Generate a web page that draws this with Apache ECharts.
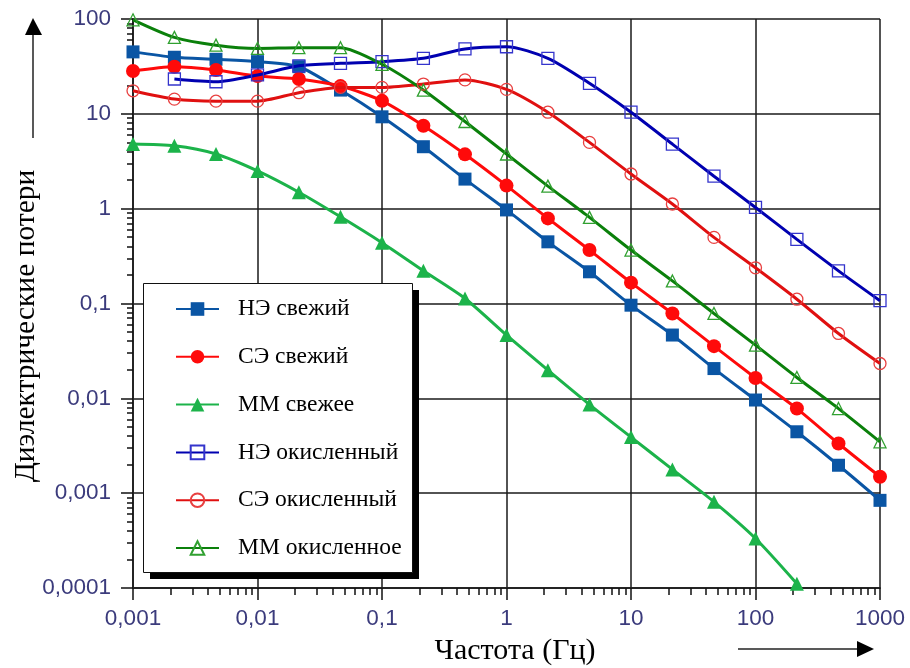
<!DOCTYPE html>
<html>
<head>
<meta charset="utf-8">
<script src="https://cdn.jsdelivr.net/npm/echarts@6/dist/echarts.min.js"></script>
<style>
  html, body { margin: 0; padding: 0; background: #fff; }
  #chart { width: 910px; height: 668px; }
</style>
</head>
<body>
<div id="chart"></div>
<script>
// Frequencies, Hz (three points per decade)
const freq = [0.001, 0.00215, 0.00464, 0.01, 0.0215, 0.0464, 0.1, 0.215, 0.464,
              1, 2.15, 4.64, 10, 21.5, 46.4, 100, 215, 464, 1000];

// Dielectric loss for each sample
const neFresh = [45, 39.5, 37.6, 35.5, 31.4, 17.8, 9.3, 4.5, 2.05, 0.97, 0.447, 0.216,
                 0.096, 0.0465, 0.0206, 0.0096, 0.00444, 0.00197, 0.00084];
const seFresh = [28.3, 31.4, 29, 25, 23.3, 19.6, 13.7, 7.5, 3.74, 1.75, 0.79, 0.366,
                 0.166, 0.0785, 0.0355, 0.0164, 0.0078, 0.00334, 0.00149];
const mmFresh = [4.8, 4.6, 3.77, 2.5, 1.49, 0.82, 0.437, 0.221, 0.113, 0.0465, 0.0198,
                 0.0086, 0.0039, 0.00178, 0.00081, 0.000333, 0.000111, null, null];
const neOx    = [null, 23.3, 21.8, 25.7, 32.1, 34.1, 35.5, 38.5, 48.3, 51, 38.5, 21,
                 10.4, 4.8, 2.2, 1.03, 0.474, 0.221, 0.107];
const seOx    = [17.5, 14.3, 13.6, 13.6, 16.7, 19, 19, 20.6, 22.8, 18.1, 10.4, 5,
                 2.32, 1.12, 0.498, 0.238, 0.111, 0.0483, 0.0233];
const mmOx    = [98, 64, 53, 49, 49.8, 49.8, 33.3, 17.8, 8.3, 3.77, 1.73, 0.81,
                 0.366, 0.173, 0.0785, 0.0364, 0.0166, 0.0078, 0.00348];

const seriesNames = ['НЭ свежий', 'СЭ свежий', 'ММ свежее',
                     'НЭ окисленный', 'СЭ окисленный', 'ММ окисленное'];

// Tick labels per decade (decimal comma)
const xTickLabels = ['0,001', '0,01', '0,1', '1', '10', '100', '1000'];
const yTickLabels = ['0,0001', '0,001', '0,01', '0,1', '1', '10', '100'];

// Minor tick positions: 2..9 within each decade
function minorValues(lo, hi) {
  const out = [];
  for (let e = lo; e < hi; e++) {
    for (let m = 2; m <= 9; m++) out.push(+(m * Math.pow(10, e)).toPrecision(3));
  }
  return out;
}
const xMinor = minorValues(-3, 3);
const yMinor = minorValues(-4, 2);

function pairs(vals) {
  const out = [];
  vals.forEach((v, i) => { if (v != null) out.push([freq[i], v]); });
  return out;
}

const tickColor = '#3b3b7c';
const labelFont = { fontFamily: 'Liberation Sans, Arial, sans-serif', fontSize: 22.5, color: tickColor };

function fmt(list, lo) {
  return v => list[Math.round(Math.log10(v)) - lo] || '';
}

// Main axis (grid 0): decade ticks, labels, grid lines.
// Overlay axis (grid 1, same rectangle): short ticks at 2..9 multiples.
function axisPair(kind, min, max, labels, lo, minor) {
  const isX = kind === 'x';
  return [
    {
      type: 'log', min: min, max: max, gridIndex: 0,
      position: isX ? 'bottom' : 'left',
      axisLine: { show: true, onZero: false, lineStyle: { color: '#222', width: 1.5 } },
      axisTick: { show: true, length: 12, lineStyle: { color: '#111', width: 1.5 } },
      axisLabel: Object.assign({ margin: isX ? 19 : 22, formatter: fmt(labels, lo) }, labelFont),
      splitLine: { show: true, lineStyle: { color: '#1a1a1a', width: 1.5 } }
    },
    {
      type: 'log', min: min, max: max, gridIndex: 1,
      position: isX ? 'bottom' : 'left',
      axisLine: { show: true, onZero: false, lineStyle: { color: '#222', width: 1.5 } },
      axisTick: { show: true, length: isX ? 7 : 6, customValues: minor,
                  lineStyle: { color: '#111', width: 1.5 } },
      axisLabel: { show: false },
      splitLine: { show: false }
    }
  ];
}

const styles = [
  { color: '#0a55a4', symbol: 'rect', size: 13, filled: true },
  { color: '#ff0a0a', symbol: 'circle', size: 14, filled: true },
  { color: '#1cb34a', symbol: 'triangle', size: 14, filled: true },
  { color: '#0000b0', mark: '#3434cc', symbol: 'rect', size: 12, filled: false },
  { color: '#e01010', mark: '#e84040', symbol: 'circle', size: 12, filled: false },
  { color: '#0b800b', mark: '#30a030', symbol: 'triangle', size: 12, filled: false }
];
const values = [neFresh, seFresh, mmFresh, neOx, seOx, mmOx];

const series = values.map((vals, i) => {
  const s = styles[i];
  return {
    name: seriesNames[i],
    type: 'line',
    xAxisIndex: 0, yAxisIndex: 0,
    data: pairs(vals),
    smooth: 0.25,
    symbol: s.symbol,
    symbolSize: s.size,
    showAllSymbol: true,
    z: 3 + (s.filled ? 0 : 1),
    lineStyle: { color: s.color, width: 3 },
    itemStyle: s.filled
      ? { color: s.color }
      : { color: 'rgba(255,255,255,0)', borderColor: s.mark, borderWidth: 1.3 }
  };
});

// Legend frame with a hard drop shadow
const box = { x: 143, y: 283, w: 269, h: 289, shadow: 7 };
const plotRect = { left: 133, right: 30, top: 19, bottom: 80 };

const chart = echarts.init(document.getElementById('chart'), null, { renderer: 'canvas' });
chart.setOption({
  animation: false,
  grid: [Object.assign({}, plotRect), Object.assign({}, plotRect)],
  xAxis: axisPair('x', 0.001, 1000, xTickLabels, -3, xMinor),
  yAxis: axisPair('y', 0.0001, 100, yTickLabels, -4, yMinor),
  legend: {
    orient: 'vertical',
    left: box.x, top: box.y,
    padding: [14, 0, 0, 32],
    itemWidth: 43, itemHeight: 17, itemGap: 23.8,
    z: 6,
    textStyle: { fontFamily: 'Liberation Serif, Times New Roman, serif', fontSize: 23.5,
                 color: '#000', lineHeight: 21, padding: [0, 0, 0, 14] },
    data: seriesNames
  },
  graphic: [
    { type: 'rect', z: 5, shape: { x: box.x + box.shadow, y: box.y + box.shadow, width: box.w, height: box.h },
      style: { fill: '#000' } },
    { type: 'rect', z: 5, shape: { x: box.x + 0.5, y: box.y + 0.5, width: box.w, height: box.h },
      style: { fill: '#fff', stroke: '#111', lineWidth: 1 } },
    { type: 'text', x: 515, y: 651,
      style: { text: 'Частота (Гц)', font: '30px "Liberation Serif", serif', fill: '#000',
               align: 'center', verticalAlign: 'middle' } },
    { type: 'text', x: 26, y: 326, rotation: Math.PI / 2,
      style: { text: 'Диэлектрические потери', font: '29.5px "Liberation Serif", serif', fill: '#000',
               align: 'center', verticalAlign: 'middle' } },
    { type: 'line', shape: { x1: 33, y1: 138, x2: 33, y2: 32 }, style: { stroke: '#222', lineWidth: 1.5 } },
    { type: 'polygon', shape: { points: [[33, 18], [25, 35], [42, 35]] }, style: { fill: '#000' } },
    { type: 'line', shape: { x1: 738, y1: 649, x2: 860, y2: 649 }, style: { stroke: '#222', lineWidth: 1.5 } },
    { type: 'polygon', shape: { points: [[874, 649], [857, 641], [857, 657]] }, style: { fill: '#000' } }
  ],
  series: series
});
</script>
</body>
</html>
